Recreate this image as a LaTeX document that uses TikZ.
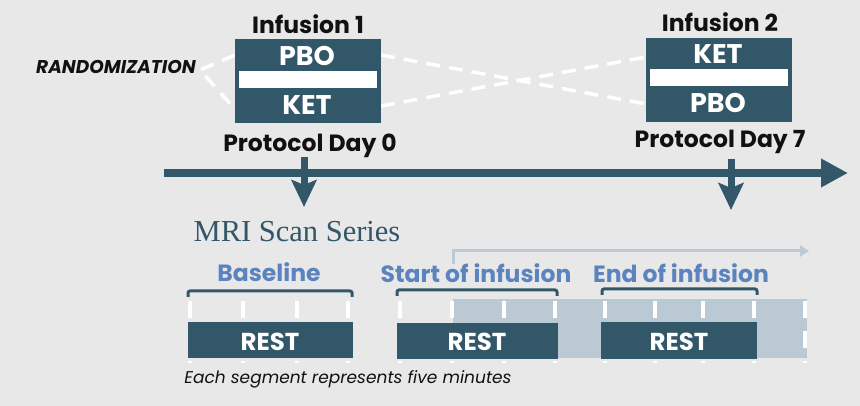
\documentclass[tikz,border=0pt]{standalone}
\usepackage{fontspec}
\setmainfont{Poppins}
\newfontfamily\serifmri{Liberation Serif}
\usetikzlibrary{arrows.meta}
\definecolor{teal}{HTML}{325769}
\definecolor{lightbg}{HTML}{E8E8E8}
\definecolor{pale}{HTML}{BAC9D3}
\definecolor{palearrow}{HTML}{BCCAD5}
\definecolor{bluetxt}{HTML}{5B83BE}
\definecolor{nearblack}{HTML}{111111}
\tikzset{
  dark/.style={fill=teal, draw=none},
  bar/.style={fill=white, draw=none},
  boxtxt/.style={anchor=base, text=white, font=\bfseries\fontsize{27}{30}\selectfont, inner sep=0pt},
  headtxt/.style={anchor=base, text=nearblack, font=\bfseries\fontsize{23.5}{26}\selectfont, inner sep=0pt},
  phasetxt/.style={anchor=base, text=bluetxt, font=\bfseries\fontsize{23.5}{26}\selectfont, inner sep=0pt},
  resttxt/.style={anchor=base, text=white, font=\bfseries\fontsize{24.5}{27}\selectfont, inner sep=0pt},
  randline/.style={draw=white, line width=3.5pt, dash pattern=on 14pt off 9pt},
  tickline/.style={draw=white, line width=3.5pt, dash pattern=on 17pt off 13pt},
  bracket/.style={draw=teal, line width=3pt, rounded corners=2pt},
  downarrow/.style={draw=teal, line width=7pt, -{Stealth[length=27pt,width=25pt,inset=5pt]}},
}
\begin{document}
\begin{tikzpicture}[x=1pt,y=-1pt]
\useasboundingbox (0,0) rectangle (860,406);
\fill[lightbg] (0,0) rectangle (860,406);

% randomization dashed lines
\coordinate (r1) at (235,55);
\coordinate (rm) at (200,70);
\coordinate (r2) at (233,107);
\coordinate (a1) at (381,55);
\coordinate (a2) at (381,106);
\coordinate (b1) at (646,57);
\coordinate (b2) at (646,104);
\draw[randline] (r1) -- (rm) -- (r2);
\draw[randline] (a1) -- (b2);
\draw[randline] (a2) -- (b1);

% infusion boxes
\fill[dark] (235,39) rectangle (381,123);
\fill[bar] (239,71) rectangle (377,88);
\node[boxtxt] (pbo1) at (307,66) {PBO};
\node[boxtxt] (ket1) at (307,115) {KET};
\fill[dark] (646,38) rectangle (792,122);
\fill[bar] (650,69) rectangle (788,86);
\node[boxtxt] (ket2) at (718,64) {KET};
\node[boxtxt] (pbo2) at (718,113) {PBO};

\node[headtxt] (inf1) at (308,34) {Infusion 1};
\node[headtxt] (inf2) at (720,32) {Infusion 2};
\node[headtxt] (day0) at (310,152) {Protocol Day 0};
\node[headtxt] (day7) at (720,148) {Protocol Day 7};
\node[anchor=base, text=nearblack, font=\bfseries\itshape\fontsize{18.5}{20}\selectfont, inner sep=0pt] (rand) at (116,74) {RANDOMIZATION};

% timeline
\coordinate (t0) at (164,173);
\coordinate (t1) at (848,173);
\draw[draw=teal, line width=8pt, -{Triangle[length=27pt,width=27pt]}] (t0) -- (t1);
\coordinate (d0a) at (304,157);
\coordinate (d0b) at (304,207);
\coordinate (d7a) at (731,159);
\coordinate (d7b) at (731,210);
\draw[downarrow] (d0a) -- (d0b);
\draw[downarrow] (d7a) -- (d7b);

% MRI
\node[anchor=base, text=teal, font=\serifmri\fontsize{30.5}{32}\selectfont, inner sep=0pt] (mri) at (297,242) {MRI Scan Series};

% light arrow
\coordinate (la0) at (453,264);
\coordinate (la1) at (453,251);
\coordinate (la2) at (809,251);
\draw[draw=palearrow, line width=3pt, -{Triangle[length=9pt,width=11pt]}] (la0) -- (la1) -- (la2);

% light region
\fill[pale] (453,299) rectangle (807,358);

% phase labels
\node[phasetxt] (base) at (269,282) {Baseline};
\node[phasetxt] (start) at (476,283) {Start of infusion};
\node[phasetxt] (end) at (681,283) {End of infusion};

% brackets
\draw[bracket] (188,297) -- (188,291) -- (352,291) -- (352,297);
\draw[bracket] (397,296) -- (397,290) -- (557,290) -- (557,296);
\draw[bracket] (602,295) -- (602,289) -- (757,289) -- (757,295);

% ticks
\foreach \x in {190,243,297,348,400,452,504,555,605,655,703,754,805}
  \draw[tickline] (\x,301) -- (\x,363);

% REST boxes
\fill[dark] (188,322) rectangle (353,358);
\fill[dark] (397,323) rectangle (558,359);
\fill[dark] (601,322) rectangle (757,359);
\node[resttxt] (rest1) at (270,350) {REST};
\node[resttxt] (rest2) at (477,350) {REST};
\node[resttxt] (rest3) at (679,350) {REST};

\node[anchor=base, text=nearblack, font=\itshape\fontsize{17}{19}\selectfont, inner sep=0pt] (cap) at (348,383) {Each segment represents five minutes};
\end{tikzpicture}
\end{document}
